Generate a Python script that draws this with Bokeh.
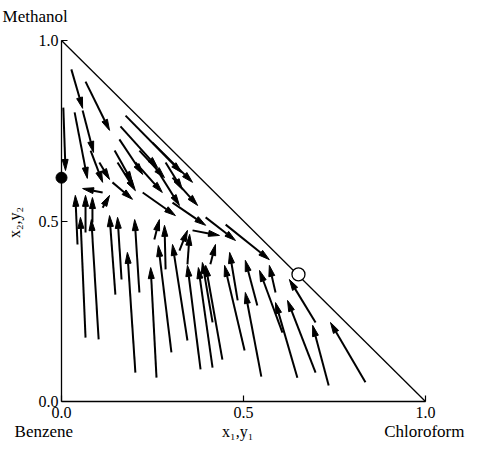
import numpy as np
from bokeh.plotting import figure
from bokeh.models import Range1d, FixedTicker, PrintfTickFormatter, Label
from bokeh.embed import file_html
from bokeh.resources import INLINE

# ---- data (mole fractions: x1 = chloroform, x2 = methanol) ----
x1_start = [0.005, 0.027, 0.058, 0.036, 0.066, 0.080, 0.176, 0.162, 0.159, 0.146,
            0.214, 0.250, 0.203, 0.104, 0.154, 0.250, 0.286, 0.140, 0.223, 0.305,
            0.305, 0.396, 0.451, 0.360, 0.113, 0.113,
            0.066, 0.102, 0.148, 0.165, 0.214, 0.203, 0.261, 0.302, 0.286, 0.346,
            0.382, 0.415, 0.442, 0.415, 0.503, 0.484, 0.538, 0.549, 0.607, 0.648,
            0.698, 0.588, 0.698, 0.734, 0.835, 0.044, 0.066, 0.085, 0.324, 0.346,
            0.409, 0.255]
x2_start = [0.814, 0.920, 0.806, 0.801, 0.886, 0.695, 0.792, 0.762, 0.726, 0.695,
            0.695, 0.717, 0.662, 0.662, 0.662, 0.662, 0.662, 0.607, 0.579, 0.620,
            0.551, 0.510, 0.490, 0.474, 0.579, 0.537,
            0.177, 0.172, 0.296, 0.338, 0.302, 0.080, 0.066, 0.136, 0.366, 0.169,
            0.089, 0.094, 0.116, 0.219, 0.141, 0.280, 0.266, 0.069, 0.191, 0.066,
            0.080, 0.302, 0.219, 0.044, 0.053, 0.435, 0.468, 0.496, 0.418, 0.380,
            0.380, 0.449]
x1_end = [0.011, 0.058, 0.088, 0.071, 0.132, 0.113, 0.330, 0.264, 0.223, 0.195,
          0.283, 0.360, 0.277, 0.132, 0.203, 0.324, 0.332, 0.195, 0.313, 0.374,
          0.396, 0.478, 0.571, 0.434, 0.058, 0.132,
          0.052, 0.082, 0.132, 0.154, 0.201, 0.181, 0.245, 0.266, 0.283, 0.305,
          0.346, 0.376, 0.396, 0.387, 0.448, 0.462, 0.505, 0.505, 0.544, 0.588,
          0.621, 0.571, 0.626, 0.690, 0.739, 0.038, 0.066, 0.085, 0.346, 0.352,
          0.423, 0.269]
x2_end = [0.640, 0.812, 0.690, 0.618, 0.751, 0.607, 0.634, 0.648, 0.629, 0.607,
          0.620, 0.607, 0.579, 0.615, 0.584, 0.543, 0.587, 0.560, 0.515, 0.543,
          0.488, 0.446, 0.393, 0.460, 0.590, 0.571,
          0.510, 0.504, 0.515, 0.510, 0.504, 0.413, 0.371, 0.432, 0.488, 0.435,
          0.377, 0.371, 0.377, 0.385, 0.377, 0.413, 0.391, 0.302, 0.363, 0.274,
          0.280, 0.377, 0.338, 0.211, 0.219, 0.571, 0.571, 0.565, 0.474, 0.463,
          0.435, 0.504]

azeo_methanol_benzene = (0.0, 0.62)        # filled circle
azeo_chloroform_methanol = (0.651, 0.352)  # open circle

tick_values = [0.0, 0.5, 1.0]

# ---- figure ----
W, H = 465, 441
p = figure(width=W, height=H, output_backend="svg", toolbar_location=None,
           x_range=Range1d(-0.1676, 1.1099), y_range=Range1d(-0.1108, 1.1108),
           min_border=0)
p.outline_line_color = None
p.grid.grid_line_color = None
p.background_fill_color = "white"
p.border_fill_color = "white"

FONT = "'Liberation Serif'"
for ax in (p.xaxis, p.yaxis):
    ax.fixed_location = 0
    ax.bounds = (0, 1)
    ax.ticker = FixedTicker(ticks=tick_values)
    ax.formatter = PrintfTickFormatter(format="%.1f")
    ax.minor_tick_line_color = None
    ax.major_tick_in = 6
    ax.major_tick_out = 0
    ax.axis_line_width = 1.3
    ax.axis_line_color = "black"
    ax.major_tick_line_color = "black"
    ax.major_tick_line_width = 1.2
    ax.major_label_text_font = FONT
    ax.major_label_text_font_size = "16px"
    ax.major_label_text_color = "black"
p.xaxis.major_label_standoff = 5
p.yaxis.major_label_standoff = 3

# hypotenuse of triangle
p.line([0, 1], [1, 0], line_color="black", line_width=1.3)

# arrows
xs = np.array(x1_start); ys = np.array(x2_start)
xe = np.array(x1_end); ye = np.array(x2_end)
sx = W / (p.x_range.end - p.x_range.start)   # pixels per unit
sy = H / (p.y_range.end - p.y_range.start)
dxp = (xe - xs) * sx
dyp = (ye - ys) * sy
ln = np.hypot(dxp, dyp)
ux, uy = dxp / ln, dyp / ln
L, Wd = 11.0, 3.0
bx = xe - L * ux / sx
by = ye - L * uy / sy
nx, ny = -uy, ux
p.segment(xs, ys, bx, by, line_color="black", line_width=2.0)
hx = [[xe[i], bx[i] + Wd * nx[i] / sx, bx[i] - Wd * nx[i] / sx] for i in range(len(xe))]
hy = [[ye[i], by[i] + Wd * ny[i] / sy, by[i] - Wd * ny[i] / sy] for i in range(len(ye))]
p.patches(hx, hy, fill_color="black", line_color="black", line_width=1)

# azeotropes
p.scatter([azeo_methanol_benzene[0]], [azeo_methanol_benzene[1]], size=11,
          fill_color="black", line_color="black")
p.scatter([azeo_chloroform_methanol[0]], [azeo_chloroform_methanol[1]], size=13,
          fill_color="white", line_color="black", line_width=1.3)

# text labels
def lab(x, y, t, align="left", angle=0.0, size="17px"):
    p.add_layout(Label(x=x, y=y, text=t, text_font=FONT, text_font_size=size,
                       text_color="black", text_align=align, text_baseline="middle",
                       angle=angle))

lab(-0.162, 1.066, "Methanol")
lab(-0.129, -0.082, "Benzene")
lab(1.107, -0.082, "Chloroform", align="right")
lab(0.484, -0.082, "x\u2081,y\u2081", align="center", size="16px")
lab(-0.130, 0.496, "x\u2082,y\u2082", align="center", angle=np.pi / 2, size="16px")

open("out.html", "w").write(file_html(p, INLINE))
